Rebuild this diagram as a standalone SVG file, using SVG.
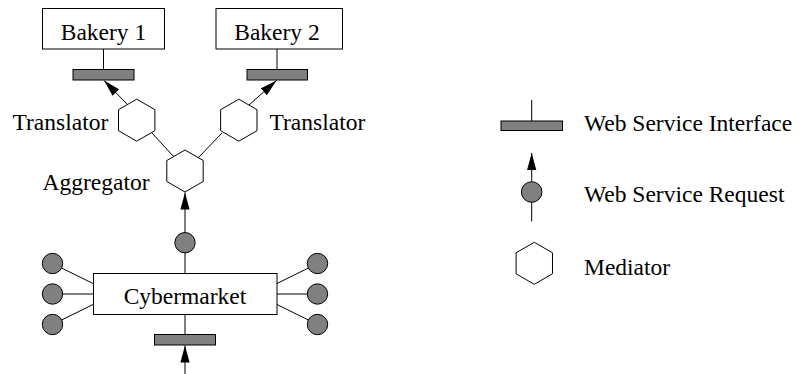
<svg xmlns="http://www.w3.org/2000/svg" width="803" height="374" viewBox="0 0 803 374">
  <style>
    text { font-family: "Liberation Serif", "Times New Roman", serif; font-size: 23.5px; fill: #000; }
    .box { fill: #fff; stroke: #000; stroke-width: 1; }
    .iface { fill: #808080; stroke: #000; stroke-width: 1; }
    .req { fill: #808080; stroke: #000; stroke-width: 1; }
    .med { fill: #fff; stroke: #000; stroke-width: 1; }
    .wire { stroke: #000; stroke-width: 1; fill: none; }
    .call { stroke: #000; stroke-width: 1; fill: none; marker-end: url(#arrow); }
  </style>
  <defs>
    <marker id="arrow" markerUnits="userSpaceOnUse" markerWidth="18" markerHeight="10" viewBox="-17 -5 18 10" refX="0" refY="0" orient="auto">
      <path d="M0,0 L-17,-4.6 L-17,4.6 Z" fill="#000"/>
    </marker>
    <polygon id="hex" points="0,-21 18.2,-10.5 18.2,10.5 0,21 -18.2,10.5 -18.2,-10.5"/>
  </defs>

  <!-- connectors -->
  <g id="connectors">
    <line class="wire" x1="103.5" y1="49" x2="103.5" y2="69"/>
    <line class="wire" x1="277" y1="49" x2="277" y2="69"/>
    <line class="call" x1="127.5" y1="104.5" x2="104" y2="80.5"/>
    <line class="call" x1="249" y1="105" x2="276.5" y2="80.5"/>
    <line class="wire" x1="152" y1="133" x2="174" y2="157"/>
    <line class="wire" x1="198" y1="158" x2="222" y2="133"/>
    <line class="call" x1="185" y1="232" x2="185" y2="192.5"/>
    <line class="wire" x1="185" y1="253" x2="185" y2="273"/>
    <line class="wire" x1="185" y1="315" x2="185" y2="334"/>
    <line class="call" x1="185" y1="374" x2="185" y2="345.5"/>
    <line class="wire" x1="52.5" y1="263.5" x2="93" y2="283.5"/>
    <line class="wire" x1="52.5" y1="294" x2="93" y2="294"/>
    <line class="wire" x1="52.5" y1="324.5" x2="93" y2="304.5"/>
    <line class="wire" x1="317.5" y1="263.5" x2="277" y2="283.5"/>
    <line class="wire" x1="317.5" y1="294" x2="277" y2="294"/>
    <line class="wire" x1="317.5" y1="324.5" x2="277" y2="304.5"/>
  </g>

  <g id="bakery1">
    <rect class="box" x="42.5" y="8.5" width="122" height="40.5"/>
    <text x="103.5" y="39.5" text-anchor="middle">Bakery 1</text>
    <rect class="iface" x="73" y="69.5" width="61" height="10.5"/>
  </g>

  <g id="bakery2">
    <rect class="box" x="216" y="8.5" width="126.5" height="40.5"/>
    <text x="277" y="39.5" text-anchor="middle">Bakery 2</text>
    <rect class="iface" x="247" y="69.5" width="60.5" height="10.5"/>
  </g>

  <g id="translator1">
    <use href="#hex" class="med" x="136.7" y="120.2"/>
    <text x="12.5" y="130">Translator</text>
  </g>

  <g id="translator2">
    <use href="#hex" class="med" x="238.8" y="120.2"/>
    <text x="269.5" y="130">Translator</text>
  </g>

  <g id="aggregator">
    <use href="#hex" class="med" x="185" y="171"/>
    <text x="42.5" y="190">Aggregator</text>
  </g>

  <g id="cybermarket">
    <circle class="req" cx="185" cy="242.7" r="10.2"/>
    <rect class="box" x="93.5" y="273.5" width="183.5" height="41"/>
    <text x="185" y="304" text-anchor="middle">Cybermarket</text>
    <rect class="iface" x="154.5" y="334.5" width="61" height="10.5"/>
    <circle class="req" cx="52.5" cy="263.5" r="10.2"/>
    <circle class="req" cx="52.5" cy="294" r="10.2"/>
    <circle class="req" cx="52.5" cy="324.5" r="10.2"/>
    <circle class="req" cx="317.5" cy="263.5" r="10.2"/>
    <circle class="req" cx="317.5" cy="294" r="10.2"/>
    <circle class="req" cx="317.5" cy="324.5" r="10.2"/>
  </g>

  <!-- legend -->
  <g id="legend-interface">
    <line class="wire" x1="531.7" y1="100" x2="531.7" y2="121"/>
    <rect class="iface" x="501" y="121" width="61.5" height="9.5"/>
    <text x="584" y="131">Web Service Interface</text>
  </g>
  <g id="legend-request">
    <line class="call" x1="531.7" y1="181.5" x2="531.7" y2="153"/>
    <line class="wire" x1="531.7" y1="202" x2="531.7" y2="221.5"/>
    <circle class="req" cx="531.7" cy="192" r="10.3"/>
    <text x="584" y="201.5">Web Service Request</text>
  </g>
  <g id="legend-mediator">
    <use href="#hex" class="med" x="534.3" y="263.3"/>
    <text x="584" y="275">Mediator</text>
  </g>
</svg>
